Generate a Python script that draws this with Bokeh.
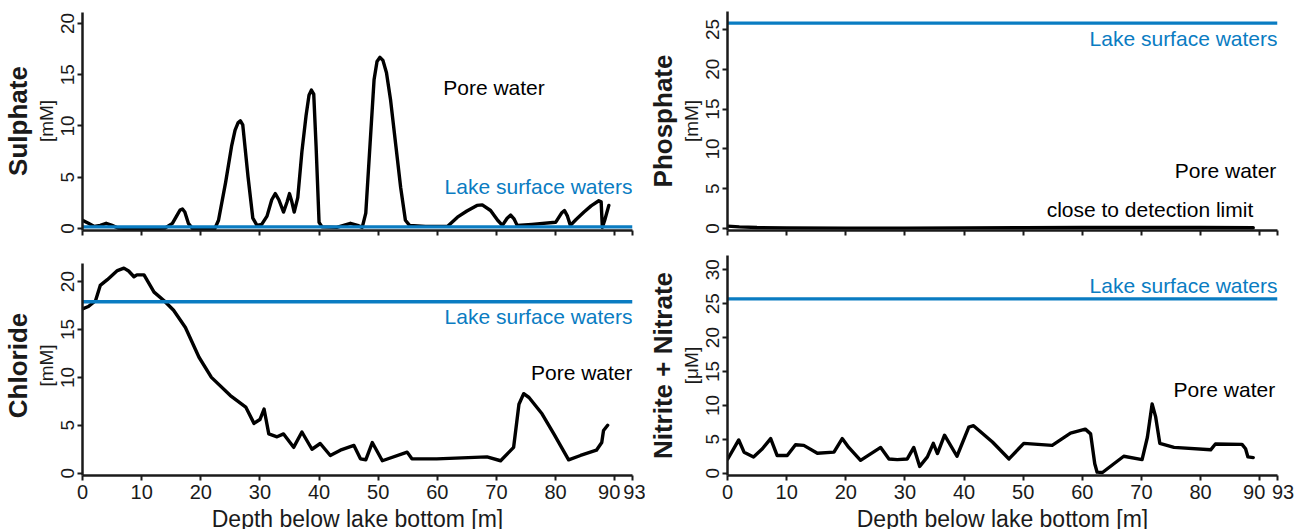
from bokeh.plotting import figure
from bokeh.models import Title, FixedTicker, Range1d, CustomLabelingPolicy
from bokeh.layouts import column, row
from bokeh.embed import file_html
from bokeh.resources import INLINE
from bokeh.core.properties import value

FONT = "Liberation Sans"
BLUE = "#0a7cc2"
INK = "#1a1a1a"

depth_ticks = [0, 10, 20, 30, 40, 50, 60, 70, 80, 90, 93]
depth_labels = {90: "90\u00a0\u00a0", 93: "\u00a0\u00a093"}
depth_max = 93

# ---- Sulphate [mM] ----
sulphate_depth = [0, 1.0, 2.0, 3.0, 4.0, 5.0, 6.0, 8, 12, 14, 15.2, 16.0, 16.5, 16.9, 17.3, 17.9, 18.6, 19.5,
                  22.3, 23.0, 24.2, 25.2, 25.8, 26.3, 26.7, 27.1, 28.0, 28.8, 29.5, 30.3, 31.2, 32.0, 32.6,
                  33.2, 34.0, 34.6, 35.0, 35.4, 35.8, 36.4, 37.1, 37.8, 38.3, 38.7, 39.1, 39.5, 40.0,
                  40.5, 43.0, 45.3, 46.5, 47.3, 47.9, 48.6, 49.3, 49.8, 50.3, 50.8, 51.4, 52.1, 53.0, 53.8,
                  54.6, 55.3, 58, 61.7, 63.4, 65, 66.7, 67.6, 69.0, 70.2, 71.0, 71.8, 72.4, 73.0, 73.5,
                  76, 80.0, 81.0, 81.5, 82.0, 82.5, 83.5, 84.8, 86, 87.3, 87.7, 87.9, 88.3, 89.0]
sulphate_mM = [0.8, 0.5, 0.2, 0.3, 0.5, 0.3, 0.05, 0.0, 0.0, 0.05, 0.5, 1.3, 1.8, 1.9, 1.6, 0.5, 0.0, -0.1,
               -0.1, 0.8, 4.5, 8.0, 9.6, 10.3, 10.5, 10.1, 5.0, 1.0, 0.3, 0.4, 1.2, 2.8, 3.4,
               2.8, 1.6, 2.6, 3.4, 2.6, 1.6, 3.0, 7.5, 11.0, 13.0, 13.5, 13.1, 8.0, 0.6,
               0.15, 0.1, 0.5, 0.3, 0.1, 1.5, 8.0, 14.5, 16.3, 16.7, 16.4, 15.2, 12.5, 8.0, 4.0,
               0.8, 0.3, 0.2, 0.2, 1.1, 1.7, 2.25, 2.3, 1.75, 0.8, 0.3, 1.0, 1.3, 0.9, 0.3,
               0.4, 0.6, 1.5, 1.75, 1.2, 0.3, 0.9, 1.6, 2.2, 2.7, 2.6, 0.1, 0.8, 2.25]
sulphate_lake = 0.15

# ---- Chloride [mM] ----
chloride_depth = [0, 1.0, 2.2, 3.0, 4.2, 5.9, 7.0, 7.8, 8.7, 9.2, 10.4, 12.1, 13.8, 15.4, 17.4, 19.7,
                  21.8, 25.0, 27.6, 29.0, 30.0, 30.7, 31.5, 32.9, 34.0, 35.7, 37.1, 38.8, 40.2, 41.9, 43.6,
                  45.9, 47.0, 47.9, 49.0, 50.7, 54.9, 55.7, 59.9, 68.4, 70.7, 72.9, 73.8, 74.6, 75.5,
                  77.7, 79.7, 82.2, 84.2, 86.9, 87.8, 88.1, 88.8]
chloride_mM = [17.15, 17.4, 18.0, 19.6, 20.2, 21.15, 21.4, 21.1, 20.5, 20.7, 20.7, 18.9, 18.0, 17.0,
               15.2, 12.1, 10.0, 8.1, 6.9, 5.2, 5.6, 6.7, 4.1, 3.8, 4.1, 2.7, 4.3, 2.5, 3.1, 1.85, 2.4,
               2.9, 1.5, 1.4, 3.2, 1.3, 2.2, 1.5, 1.5, 1.7, 1.3, 2.7, 7.2, 8.3, 7.9, 6.2, 4.1, 1.4,
               1.85, 2.4, 3.2, 4.45, 5.0]
chloride_lake = 17.9

# ---- Phosphate [mM] ----
phosphate_depth = [0, 2, 5, 10, 20, 30, 40, 50, 60, 70, 80, 88.9]
phosphate_mM = [0.3, 0.2, 0.12, 0.08, 0.05, 0.05, 0.08, 0.1, 0.12, 0.12, 0.12, 0.1]
phosphate_lake = 25.8

# ---- Nitrite + Nitrate [uM] ----
nitrate_depth = [0.05, 1.9, 2.8, 4.4, 5.9, 7.3, 8.4, 10.1, 11.5, 12.9, 15.2, 18.0, 19.4, 20.5, 22.5,
                 25.9, 27.3, 28.7, 30.4, 31.5, 32.5, 33.8, 34.8, 35.5, 36.7, 38.8, 40.8, 41.6, 44.8,
                 47.6, 50.1, 54.9, 58.0, 60.5, 61.4, 62.1, 62.5, 63.4, 67.0, 70.1, 71.0, 71.8, 72.4,
                 73.1, 75.5, 81.7, 82.5, 87.0, 87.6, 88.0, 88.9]
nitrate_uM = [2.1, 4.9, 3.1, 2.4, 3.6, 5.1, 2.6, 2.6, 4.2, 4.1, 2.95, 3.1, 5.1, 3.8, 1.9,
              3.8, 2.1, 2.0, 2.1, 3.8, 1.0, 2.4, 4.4, 2.9, 5.6, 2.5, 6.8, 7.0, 4.6,
              2.1, 4.4, 4.1, 5.9, 6.5, 5.8, 1.4, 0.15, 0.1, 2.5, 2.0, 5.3, 10.2, 8.3,
              4.4, 3.8, 3.45, 4.3, 4.25, 3.6, 2.4, 2.3]
nitrate_lake = 25.7

# ---- panel annotations (text, x, y, align, colour) ----
sulphate_notes = [("Pore water", 61.0, 13.8, "left", "black"),
                  ("Lake surface waters", 93, 4.1, "right", BLUE)]
phosphate_notes = [("Lake surface waters", 93, 23.9, "right", BLUE),
                   ("Pore water", 92.8, 7.3, "right", "black"),
                   ("close to detection limit", 88.9, 2.4, "right", "black")]
chloride_notes = [("Lake surface waters", 93, 16.4, "right", BLUE),
                  ("Pore water", 93, 10.5, "right", "black")]
nitrate_notes = [("Lake surface waters", 93, 27.7, "right", BLUE),
                 ("Pore water", 92.6, 12.3, "right", "black")]

NO_LABELS = CustomLabelingPolicy(code="for (const i of indices) { indices.unset(i) }\nreturn indices")


def panel(name, unit, xs, ys, lake, notes, y_start, y_end, y_bounds, y_ticks,
          frame_h, b_top, b_bottom, b_right, x_labels):
    p = figure(frame_width=550, frame_height=frame_h,
               x_range=Range1d(0, depth_max), y_range=Range1d(y_start, y_end),
               output_backend="svg", toolbar_location=None,
               min_border_left=82, min_border_right=b_right,
               min_border_top=b_top, min_border_bottom=b_bottom,
               background_fill_color="white", border_fill_color="white")
    p.grid.visible = False
    p.outline_line_color = None

    for ax in (p.xaxis[0], p.yaxis[0]):
        ax.axis_line_width = 2.5
        ax.axis_line_color = INK
        ax.major_tick_in = 0
        ax.major_tick_out = 5
        ax.major_tick_line_width = 2
        ax.major_tick_line_color = INK
        ax.minor_tick_line_color = None
        ax.major_label_text_font = FONT
        ax.major_label_text_color = INK

    xa = p.xaxis[0]
    xa.ticker = FixedTicker(ticks=depth_ticks)
    xa.major_label_overrides = depth_labels
    if x_labels:
        xa.major_label_standoff = 0
        xa.major_label_text_font_size = "20px"
        xa.axis_label = "Depth below lake bottom [m]"
        xa.axis_label_text_font = FONT
        xa.axis_label_text_font_size = "23px"
        xa.axis_label_text_font_style = "normal"
        xa.axis_label_text_color = INK
        xa.axis_label_standoff = 0
    else:
        xa.major_label_standoff = 0
        xa.major_label_text_font_size = "1px"
        xa.major_label_policy = NO_LABELS

    ya = p.yaxis[0]
    ya.ticker = FixedTicker(ticks=y_ticks)
    ya.bounds = y_bounds
    ya.major_label_orientation = "vertical"
    ya.major_label_text_font_size = "19px"
    ya.major_label_standoff = 3
    ya.axis_label = unit
    ya.axis_label_text_font = FONT
    ya.axis_label_text_font_size = "19px"
    ya.axis_label_text_font_style = "normal"
    ya.axis_label_text_color = INK
    ya.axis_label_standoff = 2

    p.add_layout(Title(text=name, align="center", text_font=FONT, text_font_size="26px",
                       text_font_style="bold", text_color=INK, standoff=0, offset=0), "left")

    p.line(xs, ys, line_color="black", line_width=3.4, line_join="round", line_cap="round")
    p.line([0, depth_max], [lake, lake], line_color=BLUE, line_width=3.4)

    for txt, tx, ty, al, col in notes:
        p.text(x=[tx], y=[ty], text=[txt], text_align=al, text_baseline="middle",
               text_font=value(FONT), text_font_size="21px", text_color=col)
    return p


p1 = panel("Sulphate", "[mM]", sulphate_depth, sulphate_mM, sulphate_lake, sulphate_notes,
           -0.2, 21.17, (-0.2, 21.1), [0, 5, 10, 15, 20], 219, 11, 10, 13, False)
p2 = panel("Phosphate", "[mM]", phosphate_depth, phosphate_mM, phosphate_lake, phosphate_notes,
           -0.25, 27.26, (-0.25, 27.26), [0, 5, 10, 15, 20, 25], 219, 11, 10, 20, False)
p3 = panel("Chloride", "[mM]", chloride_depth, chloride_mM, chloride_lake, chloride_notes,
           -0.24, 22.72, (-0.24, 21.9), [0, 5, 10, 15, 20], 220, 15, 50, 13, True)
p4 = panel("Nitrite + Nitrate", "[\u03bcM]", nitrate_depth, nitrate_uM, nitrate_lake, nitrate_notes,
           -0.34, 32.1, (-0.34, 32.1), [0, 5, 10, 15, 20, 25, 30], 220, 15, 50, 20, True)

layout = column(row(p1, p2, spacing=0), row(p3, p4, spacing=0), spacing=0)

open("out.html", "w").write(file_html(layout, INLINE))
